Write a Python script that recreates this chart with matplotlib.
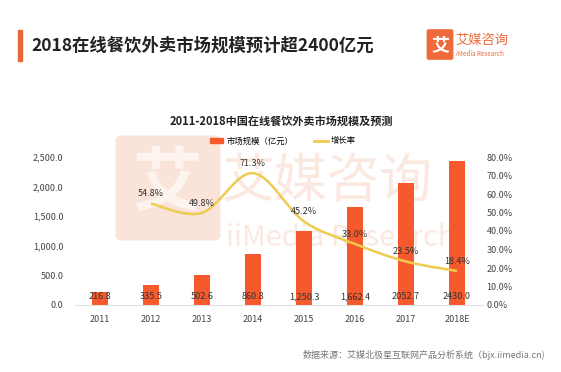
import numpy as np
import matplotlib.pyplot as plt
from matplotlib.path import Path
from matplotlib.patches import PathPatch, FancyBboxPatch, Rectangle
from matplotlib.lines import Line2D

plt.rcParams['font.family'] = ['Noto Sans CJK SC', 'DejaVu Sans']

years = ['2011', '2012', '2013', '2014', '2015', '2016', '2017', '2018E']
market = [216.8, 335.5, 502.6, 860.8, 1250.3, 1662.4, 2052.7, 2430.0]
market_labels = ['216.8', '335.5', '502.6', '860.8', '1,250.3', '1,662.4', '2052.7', '2430.0']
growth = [None, 54.8, 49.8, 71.3, 45.2, 33.0, 23.5, 18.4]

bar_color = '#F5592C'
line_color = '#EFCB50'
orange = '#EE6A3A'
wm = '#FBE9E1'

fig = plt.figure(figsize=(5.61, 3.72), dpi=100)

# header
fig.patches.append(Rectangle((18 / 561, 1 - 61 / 372), 4 / 561, 31 / 372,
                             transform=fig.transFigure, color='#E8683A'))
fig.text(31 / 561, 1 - 46 / 372, '2018在线餐饮外卖市场规模预计超2400亿元',
         fontsize=12.5, fontweight='bold', color='#222222', va='center')
fig.patches.append(FancyBboxPatch((429 / 561, 1 - 58 / 372), 22 / 561, 27 / 372,
                                  boxstyle='round,pad=0.003', transform=fig.transFigure,
                                  color=orange))
fig.text(440 / 561, 1 - 44.5 / 372, '艾', fontsize=13, fontweight='bold',
         color='white', ha='center', va='center')
fig.text(455 / 561, 1 - 40 / 372, '艾媒咨询', fontsize=9.5, color=orange, va='center')
fig.text(456 / 561, 1 - 54 / 372, 'iMedia Research', fontsize=4.5, color=orange, va='center')

# faint watermark, behind the chart
fig.patches.append(FancyBboxPatch((122 / 561, 1 - 236 / 372), 92 / 561, 96 / 372,
                                  boxstyle='round,pad=0.01', transform=fig.transFigure,
                                  color='#FAE3D8', zorder=-2))
fig.text(168 / 561, 1 - 185 / 372, '艾', fontsize=50, color='#FDF4EF',
         ha='center', va='center', fontweight='bold', zorder=-1)
fig.text(222 / 561, 1 - 182 / 372, '艾媒咨询', fontsize=38, color=wm, va='center', zorder=-1)
fig.text(226 / 561, 1 - 238 / 372, 'iiMedia Research', fontsize=21, color=wm,
         va='center', zorder=-1)

fig.text(281 / 561, 1 - 121 / 372, '2011-2018中国在线餐饮外卖市场规模及预测',
         fontsize=8, fontweight='bold', color='#222222', ha='center', va='center')

ax = fig.add_axes([74.5 / 561, 67 / 372, 408 / 561, 148 / 372])
ax.patch.set_alpha(0)
x = np.arange(len(years))
ax.bar(x, market, width=0.32, color=bar_color, zorder=2)
for xi, lab in zip(x, market_labels):
    ax.text(xi, 140, lab, ha='center', va='center', fontsize=6.5, color='#333333', zorder=5)

ax.set_xlim(-0.5, len(years) - 0.5)
ax.set_ylim(0, 2500)
yt = np.arange(0, 2501, 500)
ax.set_yticks(yt)
ax.set_yticklabels([format(v, ',.1f') for v in yt])
ax.set_xticks(x)
ax.set_xticklabels(years)
ax.tick_params(axis='both', length=0, labelsize=6.5, labelcolor='#444444')
ax.tick_params(axis='y', pad=8)
ax.tick_params(axis='x', pad=7)
for s in ['top', 'left', 'right']:
    ax.spines[s].set_visible(False)
ax.spines['bottom'].set_color('#E2E2E2')

ax2 = ax.twinx()
ax2.set_ylim(0, 80)
ax2.set_yticks(np.arange(0, 81, 10))
ax2.set_yticklabels(['%.1f%%' % v for v in np.arange(0, 81, 10)])
ax2.tick_params(axis='y', length=0, labelsize=6.5, labelcolor='#444444', pad=3)
for s in ax2.spines.values():
    s.set_visible(False)

# smooth growth curve (Catmull-Rom through the data points)
gx = np.array([i for i, g in enumerate(growth) if g is not None], dtype=float)
gy = np.array([g for g in growth if g is not None], dtype=float)
pts = np.column_stack([gx, gy])
ext = np.vstack([pts[0], pts, pts[-1]])
verts = [tuple(pts[0])]
codes = [Path.MOVETO]
for i in range(len(pts) - 1):
    p0, p1, p2, p3 = ext[i], ext[i + 1], ext[i + 2], ext[i + 3]
    c1 = p1 + (p2 - p0) / 6
    c2 = p2 - (p3 - p1) / 6
    verts += [tuple(c1), tuple(c2), tuple(p2)]
    codes += [Path.CURVE4] * 3
ax2.add_patch(PathPatch(Path(verts, codes), fill=False, edgecolor=line_color, lw=1.8, zorder=3))
for xi, g in zip(gx, gy):
    ax2.annotate('%.1f%%' % g, (xi, g), xytext=(0, 7), textcoords='offset points',
                 ha='center', va='center', fontsize=6.5, color='#333333')

handles = [Rectangle((0, 0), 1, 1, color=bar_color),
           Line2D([], [], color=line_color, lw=2)]
fig.legend(handles, ['市场规模（亿元）', '增长率'], loc='center', ncol=2,
           bbox_to_anchor=(283 / 561, 1 - 141 / 372), frameon=False, fontsize=6,
           handlelength=1.6, handleheight=0.6, columnspacing=2.5, handletextpad=0.4)

fig.text(545 / 561, 1 - 355 / 372, '数据来源：艾媒北极星互联网产品分析系统（bjx.iimedia.cn)',
         fontsize=6.5, color='#777777', ha='right', va='center')

fig.savefig('out.png', dpi=100)
